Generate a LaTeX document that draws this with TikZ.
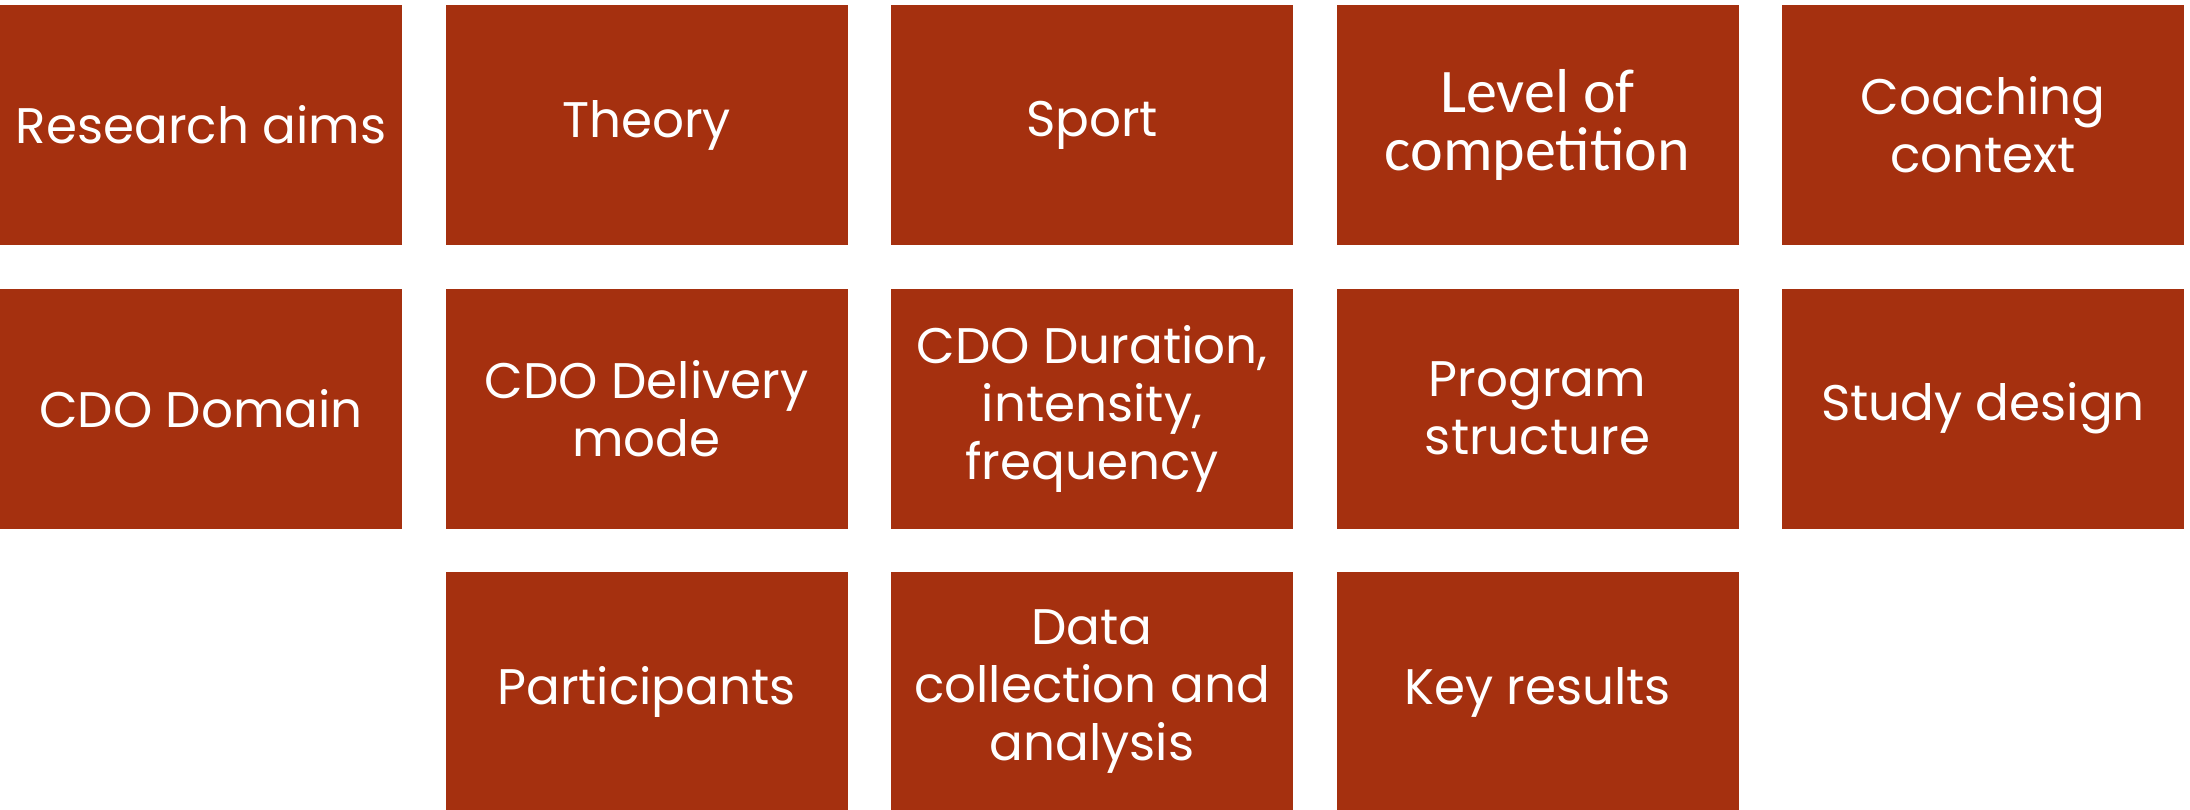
\documentclass[tikz,border=0pt]{standalone}
\usepackage{fontspec}
\usepackage{xcolor}
\setmainfont{Poppins}
\newfontfamily\calfont{Carlito}
\definecolor{rust}{HTML}{A5300F}

\tikzset{
  cell/.style={fill=rust, text=white, minimum width=402pt, minimum height=240pt,
    align=center, inner sep=0pt, font=\fontsize{50}{58}\selectfont},
}

\begin{document}
\begin{tikzpicture}[x=1pt, y=1pt]
  \useasboundingbox (0,0) rectangle (2190,-809);
  \clip (0,0) rectangle (2190,-809);
  % first row
  \node[cell] (aims)    at (201,-125)    {Research aims};
  \node[cell] (theory)  at (646.5,-125)  {Theory};
  \node[cell] (sport)   at (1092,-125)   {Sport};
  \node[cell, font=\calfont\fontsize{62}{58}\selectfont]
              (level)   at (1537.5,-125) {Level of\\competition};
  \node[cell] (context) at (1983,-125)   {Coaching\\context};
  % second row
  \node[cell] (domain)    at (201,-408.5)    {CDO Domain};
  \node[cell] (mode)      at (646.5,-408.5)  {CDO Delivery\\mode};
  \node[cell] (duration)  at (1092,-408.5)   {CDO Duration,\\intensity,\\frequency};
  \node[cell] (structure) at (1537.5,-408.5) {Program\\structure};
  \node[cell] (design)    at (1983,-408.5)   {Study design};
  % third row
  \node[cell] (participants) at (646.5,-692)  {Participants};
  \node[cell] (data)         at (1092,-692)   {Data\\collection and\\analysis};
  \node[cell] (results)      at (1537.5,-692) {Key results};
\end{tikzpicture}
\end{document}
